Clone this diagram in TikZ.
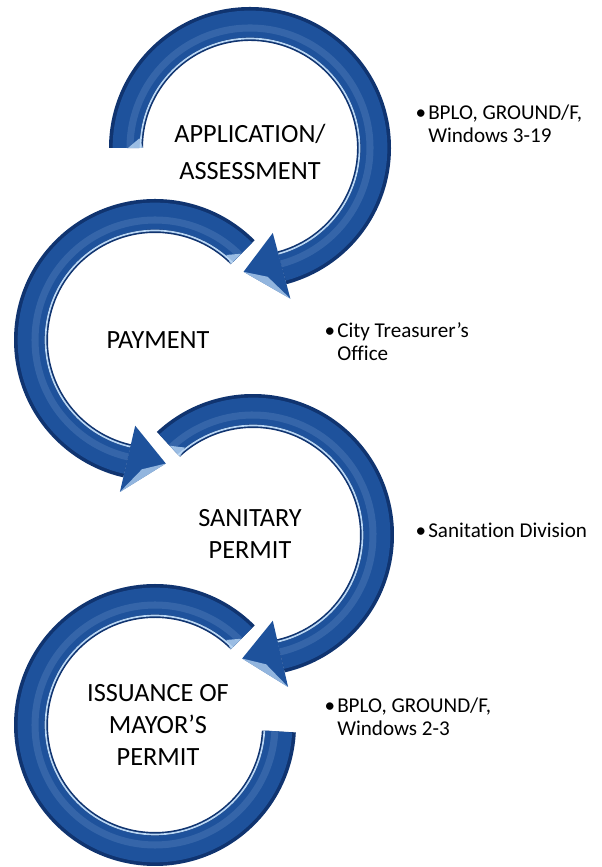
\documentclass[tikz,border=0pt]{standalone}
\usepackage{xcolor}
\usepackage{tikz}
\usepackage{fontspec}
\setmainfont[Ligatures=NoCommon]{Carlito}

\definecolor{tube}{RGB}{30,82,156}
\definecolor{tubedark}{RGB}{16,52,112}
\definecolor{tubelight}{RGB}{185,215,245}

% ring segment of a circular arrow: centre, start angle, end angle
\newcommand{\ringarrow}[3]{%
  \pgfmathsetmacro\tailangle{#2+5*sign(#3-(#2))}
  \fill[tubedark] ([shift={(#1)}]#2:141) arc[start angle=#2,end angle=#3,radius=141]
    -- ([shift={(#1)}]#3:107) arc[start angle=#3,end angle=#2,radius=107] -- cycle;
  \draw[tube,line width=19pt] ([shift={(#1)}]#2:124) arc[start angle=#2,end angle=#3,radius=124];
  \draw[tubelight,opacity=.15,line width=5pt] ([shift={(#1)}]#2:120) arc[start angle=#2,end angle=#3,radius=120];
  \draw[tubelight,line width=1.2pt] ([shift={(#1)}]#2:109.5) arc[start angle=#2,end angle=#3,radius=109.5];
  % bevel at the cut end
  \fill[tubelight,opacity=.8] ([shift={(#1)}]#2:107) -- ([shift={(#1)}]#2:122)
    -- ([shift={(#1)}]\tailangle:111) -- cycle;
}
% arrow head: centre, base angle, tip angle
\newcommand{\ringhead}[3]{%
  \pgfmathsetmacro\facetangle{#2+0.4*(#3-(#2))}
  \fill[tube] ([shift={(#1)}]#2:88) -- ([shift={(#1)}]#3:124) -- ([shift={(#1)}]#2:156) -- cycle;
  \fill[tubelight,opacity=.75] ([shift={(#1)}]#3:124) -- ([shift={(#1)}]#2:156)
    -- ([shift={(#1)}]\facetangle:130) -- cycle;
}

\begin{document}
\begin{tikzpicture}[x=0.025cm,y=0.025cm,every node/.style={inner sep=0pt},
    stepbox/.style={align=center,font=\fontsize{18.7}{22.7}\selectfont},
    place/.style={anchor=west,align=left,font=\fontsize{15}{16.4}\selectfont}]
    \useasboundingbox (0,0) rectangle (602,867);

    \coordinate (c1) at (250,719);
    \coordinate (c2) at (155,527);
    \coordinate (c3) at (253,332);
    \coordinate (c4) at (155,142);

    % circular arrows, top to bottom
    \ringarrow{c1}{180}{-75}
    \ringhead{c1}{-75}{-93}
    \ringarrow{c2}{45}{257}
    \ringhead{c2}{257}{275}
    \ringarrow{c3}{133}{-77}
    \ringhead{c3}{-77}{-95}
    \ringarrow{c4}{45}{357}

    % steps
    \node[stepbox,font=\fontsize{18.7}{26.3}\selectfont] (1) at (250,715.5) {APPLICATION/\\ASSESSMENT};
    \node[stepbox] (2) at (158,527) {PAYMENT};
    \node[stepbox] (3) at (250,333) {SANITARY\\PERMIT};
    \node[stepbox] (4) at (158,142) {ISSUANCE OF\\MAYOR’S\\PERMIT};

    % offices
    \node[place] (5) at (428,743.5) {\llap{\textbullet\kern1.5pt}BPLO, GROUND/F,\\Windows 3-19};
    \node[place] (6) at (337,525.5) {\llap{\textbullet\kern1.5pt}City Treasurer’s\\Office};
    \node[place] (7) at (428,337) {\llap{\textbullet\kern1.5pt}Sanitation Division};
    \node[place] (8) at (337,150.5) {\llap{\textbullet\kern1.5pt}BPLO, GROUND/F,\\Windows 2-3};
\end{tikzpicture}
\end{document}
